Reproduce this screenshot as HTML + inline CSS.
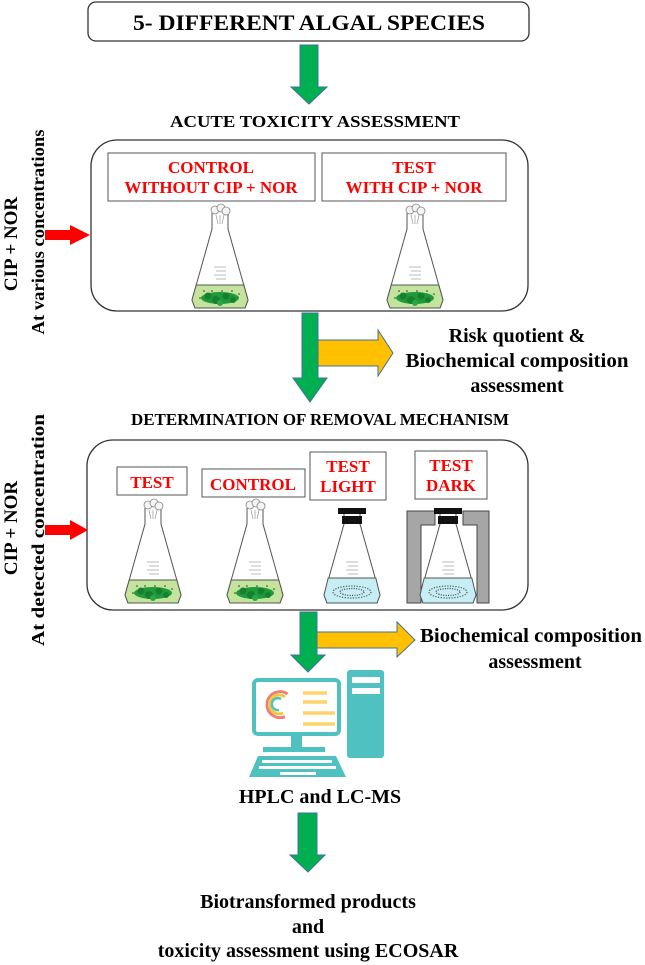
<!DOCTYPE html>
<html><head><meta charset="utf-8"><style>
html,body{margin:0;padding:0;background:#fff;}
svg{display:block;}
text{font-family:"Liberation Serif",serif;font-weight:bold;}
</style></head><body>
<svg width="645" height="965" viewBox="0 0 645 965" xmlns="http://www.w3.org/2000/svg">
<defs>
  <g id="flaskbody">
    <path d="M-8,8 L-8,24 L-28,95 L-25,103 L25,103 L28,95 L8,24 L8,8" fill="#fff" stroke="#555" stroke-width="1"/>
  </g>
  <g id="grad">
    <line x1="-6" y1="62" x2="6" y2="62" stroke="#bbb" stroke-width="1"/>
    <line x1="-4" y1="66" x2="6" y2="66" stroke="#bbb" stroke-width="1"/>
    <line x1="-6" y1="70" x2="6" y2="70" stroke="#bbb" stroke-width="1"/>
    <line x1="-4" y1="74" x2="6" y2="74" stroke="#bbb" stroke-width="1"/>
  </g>
  <g id="cotton">
    <circle cx="-5" cy="5" r="4" fill="#f4f4f4" stroke="#888" stroke-width="0.8"/>
    <circle cx="1" cy="3" r="4" fill="#f4f4f4" stroke="#888" stroke-width="0.8"/>
    <circle cx="6" cy="6" r="4" fill="#f4f4f4" stroke="#888" stroke-width="0.8"/>
    <path d="M-4,10 L-2,19 M0,10 L0,19 M4,10 L2,19" stroke="#999" stroke-width="0.7"/>
  </g>
  <g id="algae">
    <path d="M-23.8,80 L-28,95 L-25,103 L25,103 L28,95 L23.8,80 Z" fill="#c4e39c" stroke="#555" stroke-width="1"/>
    <ellipse cx="0" cy="93" rx="19" ry="6" fill="#1f9a3a"/>
    <circle cx="-12" cy="91" r="3.5" fill="#178030"/>
    <circle cx="-4" cy="95" r="4" fill="#178030"/>
    <circle cx="6" cy="91" r="3.5" fill="#178030"/>
    <circle cx="13" cy="95" r="3" fill="#178030"/>
    <circle cx="0" cy="98" r="3" fill="#2aa845"/>
    <circle cx="-16" cy="86" r="0.8" fill="#333"/><circle cx="-8" cy="86" r="0.8" fill="#333"/>
    <circle cx="2" cy="86" r="0.8" fill="#333"/><circle cx="12" cy="86" r="0.8" fill="#333"/>
    <circle cx="19" cy="89" r="0.8" fill="#333"/><circle cx="-20" cy="93" r="0.8" fill="#333"/>
  </g>
  <g id="greenflask">
    <use href="#flaskbody"/><use href="#algae"/><use href="#grad"/><use href="#cotton"/>
  </g>
  <g id="blueliq">
    <path d="M-23.8,78 L-28,95 L-25,103 L25,103 L28,95 L23.8,78 Z" fill="#c6eef4" stroke="#555" stroke-width="1"/>
    <ellipse cx="0" cy="92" rx="19" ry="6" fill="none" stroke="#555" stroke-width="1.2" stroke-dasharray="1.2 1.5"/>
    <ellipse cx="0" cy="92" rx="12" ry="3.5" fill="none" stroke="#444" stroke-width="1.2" stroke-dasharray="1 1.4"/>
  </g>
  <g id="stopper">
    <rect x="-14" y="8" width="28" height="6" fill="#111"/>
    <rect x="-10" y="16" width="20" height="8" fill="#111"/>
  </g>
</defs>

<!-- top box -->
<rect x="88" y="2" width="441" height="39" rx="8" fill="#fff" stroke="#333" stroke-width="1.3"/>
<text x="309" y="30" font-size="22" text-anchor="middle" textLength="352" lengthAdjust="spacingAndGlyphs">5- DIFFERENT ALGAL SPECIES</text>

<!-- green arrows -->
<g fill="#00b050" stroke="#41719c" stroke-width="1">
  <path d="M300,45 L318,45 L318,87 L327,87 L309,104 L291,87 L300,87 Z"/>
</g>
<text x="315" y="127" font-size="17" text-anchor="middle" textLength="290" lengthAdjust="spacingAndGlyphs">ACUTE TOXICITY ASSESSMENT</text>

<!-- box 1 -->
<rect x="91" y="140" width="437" height="171" rx="26" fill="#fff" stroke="#333" stroke-width="1.3"/>
<rect x="108" y="153" width="207" height="48" fill="#fff" stroke="#555" stroke-width="1"/>
<text x="211" y="173" font-size="17" fill="#f00" text-anchor="middle">CONTROL</text>
<text x="211" y="193" font-size="17" fill="#f00" text-anchor="middle">WITHOUT CIP + NOR</text>
<rect x="322" y="153" width="184" height="48" fill="#fff" stroke="#555" stroke-width="1"/>
<text x="414" y="173" font-size="17" fill="#f00" text-anchor="middle">TEST</text>
<text x="414" y="193" font-size="17" fill="#f00" text-anchor="middle">WITH CIP + NOR</text>
<use href="#greenflask" transform="translate(220,205)"/>
<use href="#greenflask" transform="translate(415,205)"/>

<!-- left side 1 -->
<path d="M45,230 L70,230 L70,225 L90,235 L70,245 L70,240 L45,240 Z" fill="#f00"/>
<text transform="translate(17,244) rotate(-90)" font-size="19" text-anchor="middle">CIP + NOR</text>
<text transform="translate(44,232) rotate(-90)" font-size="18" text-anchor="middle" textLength="205" lengthAdjust="spacingAndGlyphs">At various concentrations</text>

<!-- arrow 2 + yellow -->
<path d="M318,340 L378,340 L378,330 L393,353 L378,376 L378,366 L318,366 Z" fill="#ffc000" stroke="#41719c" stroke-width="1"/>
<path d="M302,313 L318,313 L318,378 L327,378 L310,402 L293,378 L302,378 Z" fill="#00b050" stroke="#41719c" stroke-width="1"/>
<text x="517" y="342" font-size="20" text-anchor="middle">Risk quotient &amp;</text>
<text x="517" y="367" font-size="20" text-anchor="middle" textLength="223" lengthAdjust="spacingAndGlyphs">Biochemical composition</text>
<text x="517" y="392" font-size="20" text-anchor="middle">assessment</text>

<text x="320" y="425" font-size="17" text-anchor="middle" textLength="378" lengthAdjust="spacingAndGlyphs">DETERMINATION OF REMOVAL MECHANISM</text>

<!-- box 2 -->
<rect x="87" y="440" width="441" height="170" rx="26" fill="#fff" stroke="#333" stroke-width="1.3"/>
<rect x="117" y="467" width="70" height="28" fill="#fff" stroke="#555" stroke-width="1"/>
<text x="152" y="488" font-size="17" fill="#f00" text-anchor="middle">TEST</text>
<rect x="202" y="469" width="103" height="28" fill="#fff" stroke="#555" stroke-width="1"/>
<text x="253" y="490" font-size="17" fill="#f00" text-anchor="middle">CONTROL</text>
<rect x="310" y="452" width="76" height="48" fill="#fff" stroke="#555" stroke-width="1"/>
<text x="348" y="472" font-size="17" fill="#f00" text-anchor="middle">TEST</text>
<text x="348" y="492" font-size="17" fill="#f00" text-anchor="middle">LIGHT</text>
<rect x="415" y="451" width="72" height="48" fill="#fff" stroke="#555" stroke-width="1"/>
<text x="451" y="471" font-size="17" fill="#f00" text-anchor="middle">TEST</text>
<text x="451" y="491" font-size="17" fill="#f00" text-anchor="middle">DARK</text>

<use href="#greenflask" transform="translate(153,500)"/>
<use href="#greenflask" transform="translate(255,500)"/>
<g transform="translate(352,500)">
  <use href="#flaskbody"/><use href="#blueliq"/><use href="#grad"/><use href="#stopper"/>
</g>
<path d="M407,511 L435,511 L435,525 L421,525 L421,603 L407,603 Z" fill="#a6a6a6" stroke="#444" stroke-width="1"/>
<path d="M463,511 L489,511 L489,603 L477,603 L477,525 L463,525 Z" fill="#a6a6a6" stroke="#444" stroke-width="1"/>
<g transform="translate(448,500)">
  <use href="#flaskbody"/><use href="#blueliq"/><use href="#grad"/><use href="#stopper"/>
</g>

<!-- left side 2 -->
<path d="M45,525 L70,525 L70,520 L88,530 L70,540 L70,535 L45,535 Z" fill="#f00"/>
<text transform="translate(17,528) rotate(-90)" font-size="19" text-anchor="middle">CIP + NOR</text>
<text transform="translate(44,530) rotate(-90)" font-size="18" text-anchor="middle" textLength="232" lengthAdjust="spacingAndGlyphs">At  detected concentration</text>

<!-- arrow 3 + yellow -->
<path d="M317,632 L397,632 L397,622 L415,640 L397,657 L397,648 L317,648 Z" fill="#ffc000" stroke="#41719c" stroke-width="1"/>
<path d="M300,612 L317,612 L317,655 L325,655 L308,672 L291,655 L300,655 Z" fill="#00b050" stroke="#41719c" stroke-width="1"/>
<text x="531" y="642" font-size="20" text-anchor="middle" textLength="222" lengthAdjust="spacingAndGlyphs">Biochemical composition</text>
<text x="535" y="668" font-size="20" text-anchor="middle">assessment</text>

<!-- computer -->
<rect x="254" y="680" width="85" height="54" rx="4" fill="#fff" stroke="#4fc1c1" stroke-width="4"/>
<path d="M284.9,716.7 A13,13 0 1 1 287.5,694" fill="none" stroke="#f07c7c" stroke-width="3"/>
<path d="M283,713 A9.5,9.5 0 1 1 285,697" fill="none" stroke="#f5c842" stroke-width="3"/>
<path d="M279,710 A6,6 0 1 1 281,699" fill="none" stroke="#4fc1c1" stroke-width="2.5"/>
<g stroke="#fdd36a" stroke-width="3.5">
  <line x1="303" y1="693" x2="327" y2="693"/>
  <line x1="303" y1="702" x2="327" y2="702"/>
  <line x1="303" y1="713" x2="335" y2="713"/>
  <line x1="303" y1="724" x2="335" y2="724"/>
</g>
<circle cx="296" cy="739" r="2" fill="#4fc1c1"/>
<rect x="291" y="735" width="11" height="13" fill="#4fc1c1"/>
<rect x="263" y="747" width="62" height="5" fill="#4fc1c1"/>
<path d="M258,756 L336,756 L346,777 L249,777 Z" fill="#4fc1c1"/>
<rect x="262" y="760" width="70" height="3" fill="#fff"/>
<rect x="259" y="766" width="77" height="3" fill="#fff"/>
<rect x="280" y="772" width="36" height="3" fill="#fff"/>
<rect x="347" y="670" width="37" height="88" rx="3" fill="#4fc1c1"/>
<rect x="352" y="677" width="28" height="6" fill="#fff"/>
<rect x="352" y="688" width="28" height="6" fill="#fff"/>

<text x="320" y="803" font-size="20" text-anchor="middle">HPLC and LC-MS</text>

<!-- arrow 4 -->
<path d="M298,813 L317,813 L317,855 L325,855 L308,872 L290,855 L298,855 Z" fill="#00b050" stroke="#41719c" stroke-width="1"/>

<text x="308" y="908" font-size="20" text-anchor="middle">Biotransformed products</text>
<text x="308" y="933" font-size="20" text-anchor="middle">and</text>
<text x="308" y="957" font-size="20" text-anchor="middle">toxicity assessment using ECOSAR</text>
</svg>
</body></html>
